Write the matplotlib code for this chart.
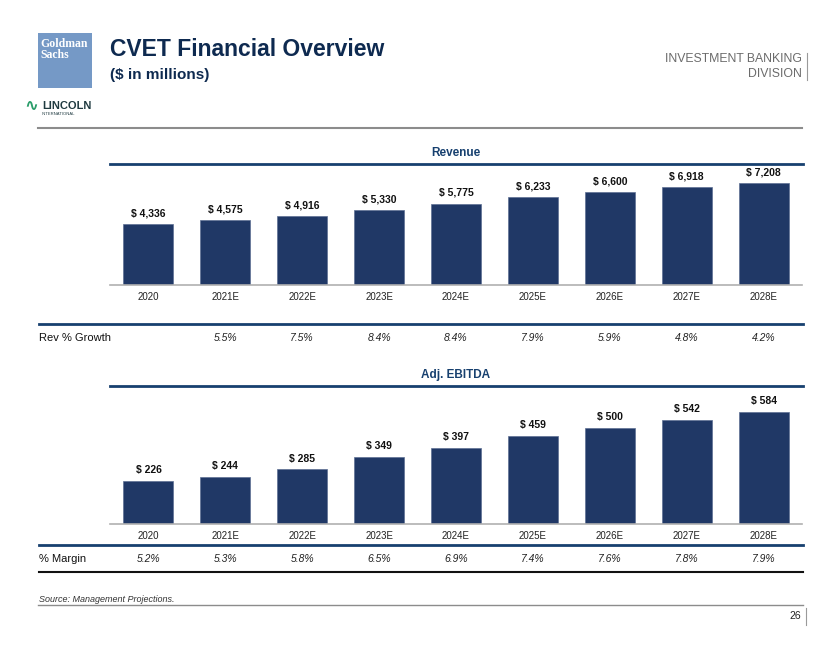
import matplotlib

matplotlib.use("Agg")
import matplotlib.pyplot as plt
from matplotlib.patches import Rectangle
from matplotlib.transforms import blended_transform_factory

plt.rcParams["font.family"] = ["Liberation Sans", "DejaVu Sans"]

YEARS = ["2020", "2021E", "2022E", "2023E", "2024E", "2025E", "2026E", "2027E", "2028E"]
REVENUE = [4336, 4575, 4916, 5330, 5775, 6233, 6600, 6918, 7208]
REV_GROWTH = ["", "5.5%", "7.5%", "8.4%", "8.4%", "7.9%", "5.9%", "4.8%", "4.2%"]
EBITDA = [226, 244, 285, 349, 397, 459, 500, 542, 584]
MARGIN = ["5.2%", "5.3%", "5.8%", "6.5%", "6.9%", "7.4%", "7.6%", "7.8%", "7.9%"]

W, H = 840, 649
NAVY = "#203866"
TITLE_NAVY = "#0E2A50"
HEAD_NAVY = "#17406F"
GRAY = "#8C8C8C"


def fx(px):
    return px / W


def fy(py):
    return 1 - py / H


def hline(fig, x0, x1, y, color, lw):
    fig.add_artist(plt.Line2D([fx(x0), fx(x1)], [fy(y), fy(y)], color=color,
                              linewidth=lw, transform=fig.transFigure))


def vline(fig, x, y0, y1, color, lw):
    fig.add_artist(plt.Line2D([fx(x), fx(x)], [fy(y0), fy(y1)], color=color,
                              linewidth=lw, transform=fig.transFigure))


def bar_panel(fig, top, bottom, values, ymax, title, title_y):
    ax = fig.add_axes([fx(110), fy(bottom), fx(802) - fx(110), fy(top) - fy(bottom)])
    x = range(len(values))
    bars = ax.bar(x, values, width=0.65, color=NAVY, edgecolor="#5d6f93", linewidth=0.5)
    for rect, v in zip(bars, values):
        ax.annotate(f"$ {v:,}", (rect.get_x() + rect.get_width() / 2, v),
                    xytext=(0, 4), textcoords="offset points", ha="center", va="bottom",
                    fontsize=7.5, fontweight="bold", color="#111111")
    ax.set_xlim(-0.5, len(values) - 0.5)
    ax.set_ylim(0, ymax)
    ax.set_xticks(list(x), YEARS, fontsize=7, color="#222222")
    ax.tick_params(axis="x", length=0, pad=5)
    ax.set_yticks([])
    for s in ("top", "left", "right"):
        ax.spines[s].set_visible(False)
    ax.spines["bottom"].set_color("#b0b0b0")
    ax.spines["bottom"].set_linewidth(1.2)
    hline(fig, 110, 803, top, HEAD_NAVY, 2.0)
    fig.text(fx(456), fy(title_y), title, ha="center", va="center", fontsize=8.5,
             fontweight="bold", color=HEAD_NAVY)
    return ax


def stat_row(fig, ax, label, values, y):
    tr = blended_transform_factory(ax.transData, fig.transFigure)
    fig.text(fx(39), fy(y), label, ha="left", va="center", fontsize=8, color="#111111")
    for i, v in enumerate(values):
        ax.text(i, fy(y), v, transform=tr, ha="center", va="center", fontsize=7.5,
                style="italic", color="#222222")


fig = plt.figure(figsize=(W / 100, H / 100), dpi=100)

# header
fig.add_artist(Rectangle((fx(38), fy(88)), fx(92) - fx(38), fy(33) - fy(88),
                         transform=fig.transFigure, facecolor="#7599C6", edgecolor="none"))
fig.text(fx(40), fy(44), "Goldman", ha="left", va="center", fontsize=8.5, fontweight="bold",
         color="white", family=["Liberation Serif"])
fig.text(fx(40), fy(55), "Sachs", ha="left", va="center", fontsize=8.5, fontweight="bold",
         color="white", family=["Liberation Serif"])
fig.text(fx(110), fy(49), "CVET Financial Overview", ha="left", va="center", fontsize=16.5,
         fontweight="bold", color=TITLE_NAVY)
fig.text(fx(110), fy(75), "($ in millions)", ha="left", va="center", fontsize=11,
         fontweight="bold", color=TITLE_NAVY)
fig.text(fx(802), fy(59), "INVESTMENT BANKING", ha="right", va="center", fontsize=8.8,
         color="#6b6b6b")
fig.text(fx(802), fy(74), "DIVISION", ha="right", va="center", fontsize=8.8, color="#6b6b6b")
vline(fig, 807, 53, 80, "#9a9a9a", 0.8)
fig.text(fx(24), fy(106), "\u223f", ha="left", va="center", fontsize=12, fontweight="bold",
         color="#2a9d6a", family=["DejaVu Sans"])
fig.text(fx(42), fy(106), "LINCOLN", ha="left", va="center", fontsize=8, fontweight="bold",
         color="#1f3a40")
fig.text(fx(42), fy(114), "INTERNATIONAL", ha="left", va="center", fontsize=3,
         color="#1f3a40")
hline(fig, 38, 802, 128, GRAY, 1.5)

# revenue
ax1 = bar_panel(fig, 164, 285, REVENUE, 8575, "Revenue", 153)
hline(fig, 39, 803, 324, HEAD_NAVY, 2.0)
stat_row(fig, ax1, "Rev % Growth", REV_GROWTH, 338)

# adj. ebitda
ax2 = bar_panel(fig, 386, 524, EBITDA, 717, "Adj. EBITDA", 375)
hline(fig, 39, 803, 545, HEAD_NAVY, 2.0)
stat_row(fig, ax2, "% Margin", MARGIN, 559)
hline(fig, 39, 803, 572, "#111111", 1.5)

# footer
fig.text(fx(39), fy(599), "Source: Management Projections.", ha="left", va="center",
         fontsize=6.5, style="italic", color="#333333")
hline(fig, 38, 803, 605, GRAY, 1.0)
fig.text(fx(801), fy(616), "26", ha="right", va="center", fontsize=7.5,
         color="#222222")
vline(fig, 806, 608, 625, "#9a9a9a", 0.8)

fig.savefig("out.png", dpi=100)
